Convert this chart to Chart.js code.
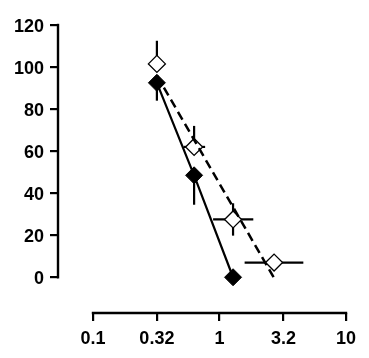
<!DOCTYPE html>
<html><head><meta charset="utf-8">
<script src="https://cdn.jsdelivr.net/npm/chart.js@4"></script>
<style>html,body{margin:0;padding:0;background:#fff}canvas{display:block}</style>
</head><body>
<canvas id="c" width="369" height="358"></canvas>
<script>
// Tick definitions
const xTickValues = [0.1, 0.32, 1, 3.2, 10];
const xTickLabels = ['0.1', '0.32', '1', '3.2', '10'];
const yTickValues = [0, 20, 40, 60, 80, 100, 120];
const yTickLabels = ['0', '20', '40', '60', '80', '100', '120'];

// Open diamonds (dashed fit)
const openX = [0.32, 0.63, 1.28, 2.7];
const openY = [101.5, 62, 27.5, 7];
const openYErrUp = [11, 10, 7.7, 0];
const openYErrDown = [0, 0, 7.7, 0];
const openXLow = [0.32, 0.52, 0.89, 1.58];
const openXHigh = [0.32, 0.77, 1.85, 4.6];

// Filled diamonds (solid line)
const filledX = [0.32, 0.63, 1.28];
const filledY = [92.5, 48.5, 0];
const filledYErrDown = [8.5, 14, 0];

// Dashed fit line end points
const fitLineX = [0.32, 2.68];
const fitLineY = [96, 0];

const toPts = (xs, ys) => xs.map((v, i) => ({x: v, y: ys[i]}));

const LABEL_FONT = 'bold 18px "Liberation Sans", Arial, sans-serif';

const errorBars = {
  id: 'errorBars',
  beforeDatasetsDraw(chart) {
    const {ctx, scales: {x, y}} = chart;
    ctx.save();
    ctx.strokeStyle = '#000';
    ctx.lineWidth = 2.2;
    const seg = (x1, y1, x2, y2) => { ctx.beginPath(); ctx.moveTo(x1, y1); ctx.lineTo(x2, y2); ctx.stroke(); };
    openX.forEach((v, i) => {
      const px = x.getPixelForValue(v), py = y.getPixelForValue(openY[i]);
      if (openYErrUp[i]) seg(px, py, px, y.getPixelForValue(openY[i] + openYErrUp[i]));
      if (openYErrDown[i]) seg(px, py, px, y.getPixelForValue(openY[i] - openYErrDown[i]));
      if (openXLow[i] !== openXHigh[i]) seg(x.getPixelForValue(openXLow[i]), py, x.getPixelForValue(openXHigh[i]), py);
    });
    filledX.forEach((v, i) => {
      const px = x.getPixelForValue(v), py = y.getPixelForValue(filledY[i]);
      if (filledYErrDown[i]) seg(px, py, px, y.getPixelForValue(filledY[i] - filledYErrDown[i]));
    });
    ctx.restore();
  }
};

const axisLines = {
  id: 'axisLines',
  afterDraw(chart) {
    const {ctx, scales: {x, y}} = chart;
    ctx.save();
    ctx.setTransform(1, 0, 0, 1, 0, 0);
    ctx.strokeStyle = '#000';
    ctx.lineWidth = 2.4;
    ctx.lineCap = 'square';
    const ax = y.right;
    ctx.beginPath();
    ctx.moveTo(ax, y.getPixelForValue(yTickValues[yTickValues.length - 1]));
    ctx.lineTo(ax, y.getPixelForValue(yTickValues[0]));
    ctx.stroke();
    const ay = x.top;
    ctx.beginPath();
    ctx.moveTo(x.getPixelForValue(xTickValues[0]), ay);
    ctx.lineTo(x.getPixelForValue(xTickValues[xTickValues.length - 1]), ay);
    ctx.stroke();

    // tick labels, positioned through the scales
    ctx.fillStyle = '#000';
    ctx.font = LABEL_FONT;
    ctx.textBaseline = 'alphabetic';
    ctx.textAlign = 'right';
    yTickValues.forEach((v, i) => {
      ctx.fillText(yTickLabels[i], ax - 14, y.getPixelForValue(v) + 6.5);
    });
    ctx.textAlign = 'center';
    xTickValues.forEach((v, i) => {
      ctx.fillText(xTickLabels[i], x.getPixelForValue(v), ay + 31);
    });
    ctx.restore();
  }
};

new Chart(document.getElementById('c'), {
  type: 'scatter',
  data: {
    datasets: [
      {
        data: toPts(fitLineX, fitLineY),
        showLine: true,
        borderColor: '#000',
        borderWidth: 2.5,
        borderDash: [9, 5],
        pointRadius: 0,
        fill: false
      },
      {
        data: toPts(filledX, filledY),
        showLine: true,
        borderColor: '#000',
        borderWidth: 2.2,
        backgroundColor: '#000',
        pointStyle: 'rectRot',
        pointRadius: 8.5,
        pointBorderWidth: 1,
        pointBackgroundColor: '#000',
        pointBorderColor: '#000'
      },
      {
        data: toPts(openX, openY),
        showLine: false,
        pointStyle: 'rectRot',
        pointRadius: 8.5,
        pointBorderWidth: 1.3,
        pointBackgroundColor: '#fff',
        pointBorderColor: '#000'
      }
    ]
  },
  options: {
    responsive: false,
    devicePixelRatio: 1,
    animation: false,
    layout: {padding: {top: 25, right: 23, left: 0, bottom: 0}},
    plugins: {legend: {display: false}, tooltip: {enabled: false}},
    scales: {
      x: {
        type: 'logarithmic',
        min: 0.0529,
        max: 10,
        afterBuildTicks: s => { s.ticks = xTickValues.map(v => ({value: v})); },
        afterFit: s => { s.height = 45; },
        ticks: {display: false, autoSkip: false, maxRotation: 0},
        grid: {drawOnChartArea: false, drawTicks: true, tickLength: 8, lineWidth: 2.2, color: '#000'},
        border: {display: false}
      },
      y: {
        min: -17,
        max: 120,
        afterBuildTicks: s => { s.ticks = yTickValues.map(v => ({value: v})); },
        afterFit: s => { s.width = 58; },
        ticks: {display: false},
        grid: {drawOnChartArea: false, drawTicks: true, tickLength: 8, lineWidth: 2.2, color: '#000'},
        border: {display: false}
      }
    }
  },
  plugins: [errorBars, axisLines]
});
</script>
</body></html>
